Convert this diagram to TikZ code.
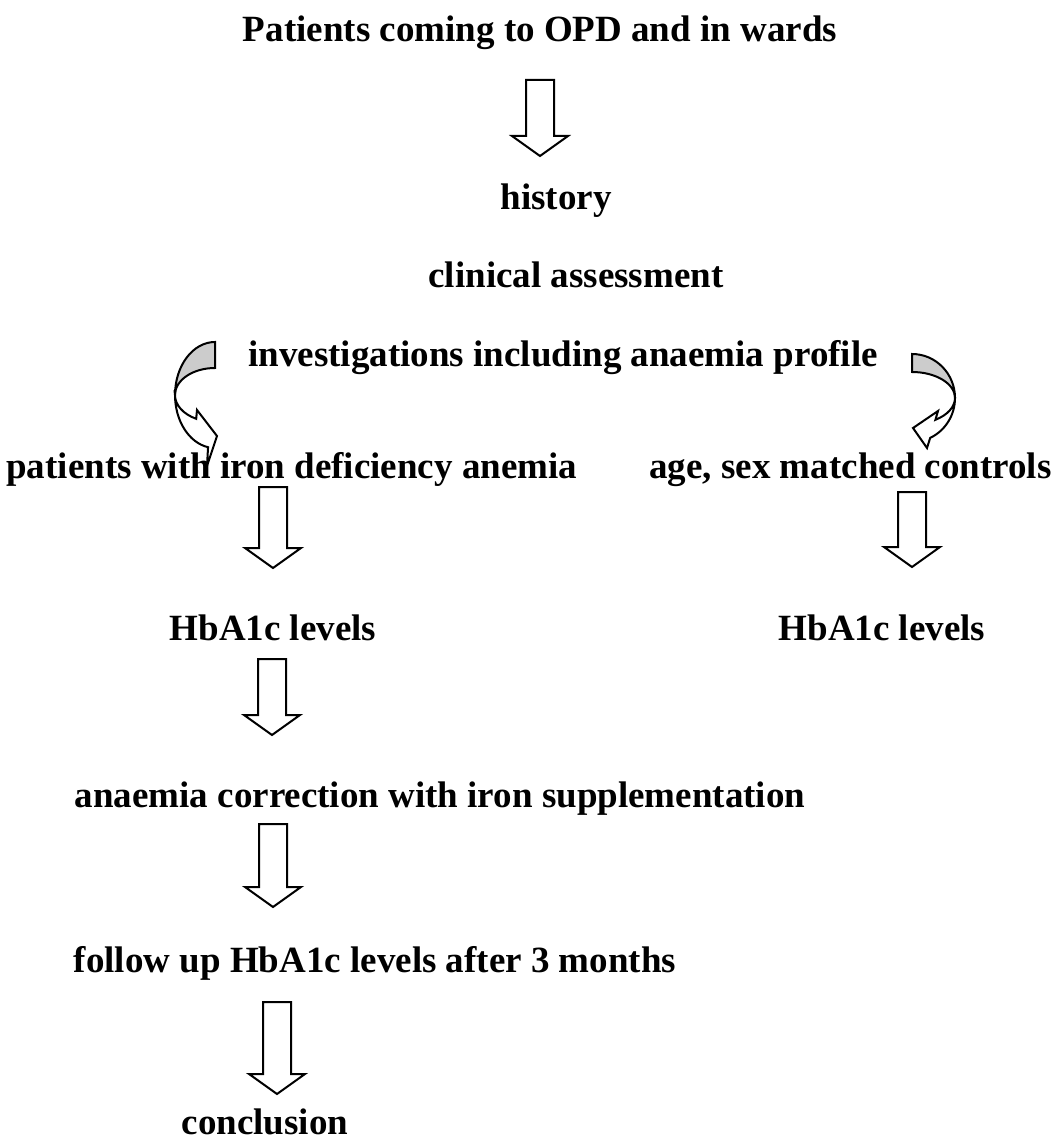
\documentclass[tikz,border=0pt]{standalone}
\usepackage{fontspec}
\setmainfont{Liberation Serif}
\usetikzlibrary{calc}

\tikzset{
  lbl/.style={font=\bfseries\fontsize{18.5}{22}\selectfont, inner sep=0pt, anchor=base},
  blk/.style={draw=black, fill=white, line width=1pt},
  backside/.style={draw=black, fill=black!20, line width=1pt},
}
% block arrow pointing down, from top point #1 to tip #2
\newcommand{\bigdown}[2]{%
  \draw[blk] let \p1=(#1), \p2=(#2) in
    (\x1-7pt,\y1) -- (\x1+7pt,\y1) -- (\x1+7pt,\y2+10pt) -- (\x1+14pt,\y2+10pt)
    -- (\x1,\y2) -- (\x1-14pt,\y2+10pt) -- (\x1-7pt,\y2+10pt) -- cycle;}

\begin{document}
\begin{tikzpicture}[x=0.5pt,y=-0.5pt]
\useasboundingbox (0,0) rectangle (1057,1144);

% texts
\node[lbl] (title) at (540,42) {Patients coming to OPD and in wards};
\node[lbl] (hist) at (556,210) {history};
\node[lbl] (clin) at (576,288) {clinical assessment};
\node[lbl, anchor=base west] (invest) at (248,366) {investigations including anaemia profile};
\node[lbl, anchor=base west] (ida) at (6,478) {patients with iron deficiency anemia};
\node[lbl, anchor=base east] (ctrl) at (1052,478) {age, sex matched controls};
\node[lbl] (hbl) at (273,640) {HbA1c levels};
\node[lbl] (hbr) at (882,640) {HbA1c levels};
\node[lbl] (corr) at (440,807) {anaemia correction with iron supplementation};
\node[lbl] (fup) at (375,972) {follow up HbA1c levels after 3 months};
\node[lbl] (concl) at (265,1134) {conclusion};

% straight block arrows
\coordinate (a1) at (540,80);   \coordinate (a1e) at (540,156);
\coordinate (a2) at (273,487);  \coordinate (a2e) at (273,568);
\coordinate (a3) at (912,492);  \coordinate (a3e) at (912,567);
\coordinate (a4) at (272,659);  \coordinate (a4e) at (272,735);
\coordinate (a5) at (273,824);  \coordinate (a5e) at (273,907);
\coordinate (a6) at (277,1002); \coordinate (a6e) at (277,1094);
\bigdown{a1}{a1e}
\bigdown{a2}{a2e}
\bigdown{a3}{a3e}
\bigdown{a4}{a4e}
\bigdown{a5}{a5e}
\bigdown{a6}{a6e}

% curved arrow, left
\filldraw[backside] (215,342) arc[start angle=270, end angle=180, x radius=40, y radius=53]
  arc[start angle=180, end angle=270, x radius=40, y radius=27] -- cycle;
\filldraw[blk] (175,395) arc[start angle=180, end angle=100, x radius=40, y radius=53]
  -- (207,466) -- (217,436) -- (197,410) -- (196.2,418.8)
  arc[start angle=118, end angle=180, x radius=40, y radius=27] -- cycle;

% curved arrow, right
\filldraw[backside] (912,354) arc[start angle=270, end angle=360, x radius=43, y radius=44]
  arc[start angle=0, end angle=-90, x radius=43, y radius=26] -- cycle;
\filldraw[blk] (955,398) arc[start angle=0, end angle=65, x radius=43, y radius=44]
  -- (927,448) -- (913,428) -- (938,411) -- (935.4,419.8)
  arc[start angle=57, end angle=0, x radius=43, y radius=26] -- cycle;
\end{tikzpicture}
\end{document}
